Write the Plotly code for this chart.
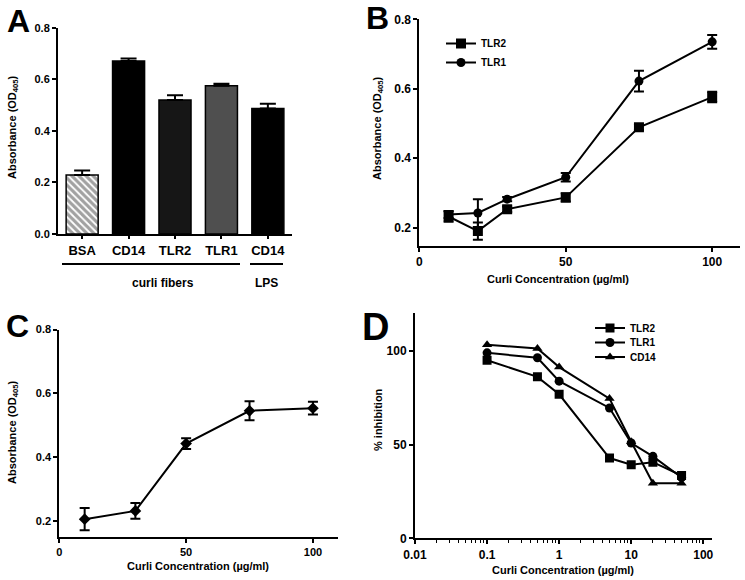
import plotly.graph_objects as go

# ---------------- data ----------------
# Panel A
a_labels = ["BSA", "CD14", "TLR2", "TLR1", "CD14"]
a_values = [0.229, 0.671, 0.520, 0.575, 0.487]
a_errors = [0.017, 0.010, 0.018, 0.008, 0.018]
a_colors = ["white", "#000000", "#161616", "#4f4f4f", "#000000"]
a_groups = ["curli fibers", "LPS"]

# Panel B
b_conc = [10, 20, 30, 50, 75, 100]
b_tlr2 = [0.232, 0.190, 0.253, 0.287, 0.489, 0.576]
b_tlr2_err = [0.015, 0.025, 0.008, 0.012, 0.008, 0.015]
b_tlr1 = [0.238, 0.242, 0.282, 0.345, 0.622, 0.735]
b_tlr1_err = [0.010, 0.040, 0.006, 0.012, 0.030, 0.020]

# Panel C
c_conc = [10, 30, 50, 75, 100]
c_vals = [0.205, 0.231, 0.442, 0.545, 0.553]
c_err = [0.035, 0.025, 0.017, 0.030, 0.020]

# Panel D
d_conc = [0.1, 0.5, 1, 5, 10, 20, 50]
d_tlr2 = [95.0, 86.1, 76.8, 42.8, 39.2, 40.6, 33.5]
d_tlr1 = [98.9, 96.3, 83.8, 69.5, 50.8, 43.7, 32.4]
d_cd14 = [103.2, 101.2, 91.3, 74.5, 51.5, 29.4, 29.4]
d_ticks = [0.01, 0.1, 1, 10, 100]
d_ticktext = ["0.01", "0.1", "1", "10", "100"]

# ---------------- layout helpers ----------------
W, H = 745, 580
FONT = "Liberation Sans, Arial, sans-serif"


def px(x):
    return x / W


def py(y):
    return 1 - y / H


fig = go.Figure()

# ---- Panel A: bars ----
fig.add_trace(go.Bar(
    x=list(range(len(a_labels))), y=a_values,
    marker=dict(color=a_colors, line=dict(color="black", width=1.5),
                pattern=dict(shape=["\\", "", "", "", ""], fgcolor="black",
                             fillmode="overlay", size=5, solidity=0.65)),
    error_y=dict(type="data", array=a_errors, arrayminus=[0] * len(a_errors),
                 symmetric=False, color="black", thickness=2, width=8),
    width=0.69, xaxis="x", yaxis="y", showlegend=False))

# ---- Panel B ----
fig.add_trace(go.Scatter(
    x=b_conc, y=b_tlr2, name="TLR2", mode="lines+markers",
    line=dict(color="black", width=2),
    marker=dict(symbol="square", size=10, color="black"),
    error_y=dict(type="data", array=b_tlr2_err, color="black", thickness=2, width=5),
    xaxis="x2", yaxis="y2", legend="legend"))
fig.add_trace(go.Scatter(
    x=b_conc, y=b_tlr1, name="TLR1", mode="lines+markers",
    line=dict(color="black", width=2),
    marker=dict(symbol="circle", size=9, color="black"),
    error_y=dict(type="data", array=b_tlr1_err, color="black", thickness=2, width=5),
    xaxis="x2", yaxis="y2", legend="legend"))

# ---- Panel C ----
fig.add_trace(go.Scatter(
    x=c_conc, y=c_vals, mode="lines+markers",
    line=dict(color="black", width=2),
    marker=dict(symbol="diamond", size=9, color="black"),
    error_y=dict(type="data", array=c_err, color="black", thickness=2, width=5),
    xaxis="x3", yaxis="y3", showlegend=False))

# ---- Panel D ----
for name, vals, sym, lg in [("TLR2", d_tlr2, "square", "legend2"),
                            ("TLR1", d_tlr1, "circle", "legend3"),
                            ("CD14", d_cd14, "triangle-up", "legend4")]:
    fig.add_trace(go.Scatter(
        x=d_conc, y=vals, name=name, mode="lines+markers",
        line=dict(color="black", width=2),
        marker=dict(symbol=sym, size=9, color="black"),
        xaxis="x4", yaxis="y4", legend=lg))

axis_common = dict(showline=True, linecolor="black", linewidth=2, ticks="outside",
                   ticklen=4, tickwidth=2, tickcolor="black", showgrid=False,
                   zeroline=False, mirror=False, automargin=False,
                   tickfont=dict(family=FONT, size=11, color="black", weight="bold"))

minor_vals = []
for dec in [0.01, 0.1, 1, 10]:
    for k in range(2, 10):
        minor_vals.append(dec * k)

legend_font = dict(family=FONT, size=10, color="black", weight="bold")


def d_legend(ycenter):
    return dict(x=px(590), y=py(ycenter), xanchor="left", yanchor="middle",
                bgcolor="rgba(0,0,0,0)", borderwidth=0, itemwidth=30,
                font=legend_font, tracegroupgap=0)


fig.update_layout(
    template="none",
    width=W, height=H, autosize=False,
    margin=dict(l=0, r=0, t=0, b=0, pad=0),
    paper_bgcolor="white", plot_bgcolor="white",
    font=dict(family=FONT, size=11, color="black", weight="bold"),
    # A
    xaxis=dict(axis_common, domain=[px(58), px(292)], range=[-0.52, 4.52],
               tickvals=list(range(len(a_labels))), ticktext=a_labels,
               ticklen=3, tickfont=dict(family=FONT, size=13, color="black", weight="bold"),
               anchor="y"),
    yaxis=dict(axis_common, domain=[py(234), py(27.7)], range=[0, 0.8],
               tickvals=[0, 0.2, 0.4, 0.6, 0.8], tickformat=".1f", anchor="x"),
    # B
    xaxis2=dict(axis_common, domain=[px(419.3), px(740)], range=[0, 109.5],
                tickvals=[0, 50, 100], anchor="y2",
                tickfont=dict(family=FONT, size=12, color="black", weight="bold")),
    yaxis2=dict(axis_common, domain=[py(246), py(19.3)], range=[0.147, 0.8],
                tickvals=[0.2, 0.4, 0.6, 0.8], tickformat=".1f", anchor="x2",
                tickfont=dict(family=FONT, size=12, color="black", weight="bold")),
    # C
    xaxis3=dict(axis_common, domain=[px(59.3), px(338.3)], range=[0, 110],
                tickvals=[0, 50, 100], anchor="y3"),
    yaxis3=dict(axis_common, domain=[py(536.7), py(329.5)], range=[0.15, 0.8],
                tickvals=[0.2, 0.4, 0.6, 0.8], tickformat=".1f", anchor="x3"),
    # D
    xaxis4=dict(axis_common, type="log", domain=[px(415), px(711.7)], range=[-2, 2.117],
                tickvals=d_ticks, ticktext=d_ticktext, anchor="y4",
                tickfont=dict(family=FONT, size=12, color="black", weight="bold"),
                minor=dict(tickvals=minor_vals, ticks="outside", ticklen=3,
                           tickwidth=1, tickcolor="black", showgrid=False)),
    yaxis4=dict(axis_common, domain=[py(538.3), py(313.3)], range=[0, 120],
                tickvals=[0, 50, 100], anchor="x4",
                tickfont=dict(family=FONT, size=12, color="black", weight="bold")),
    legend=dict(x=px(441), y=py(29), xanchor="left", yanchor="top",
                bgcolor="rgba(0,0,0,0)", borderwidth=0, itemwidth=30,
                font=legend_font, tracegroupgap=0),
    legend2=d_legend(328),
    legend3=d_legend(342.5),
    legend4=d_legend(357),
)

annots = []


def ann(text, x, y, size, angle=0, xanchor="center", yanchor="middle"):
    annots.append(dict(text=text, x=px(x), y=py(y), xref="paper", yref="paper",
                       showarrow=False, textangle=angle, xanchor=xanchor, yanchor=yanchor,
                       font=dict(family=FONT, size=size, color="black", weight="bold")))


# panel letters
ann("A", 18, 21, 32)
ann("B", 377, 18, 32)
ann("C", 17, 326, 32)
ann("D", 375, 327, 38)

# axis titles
ann("Absorbance (OD<sub>405</sub>)", 13, 127, 11, angle=-90)
ann("Absorbance (OD<sub>405</sub>)", 378, 128, 11, angle=-90)
ann("Absorbance (OD<sub>405</sub>)", 13, 432, 11, angle=-90)
ann("% inhibition", 378, 420, 11, angle=-90)
ann("Curli Concentration (µg/ml)", 558, 279, 11)
ann("Curli Concentration (µg/ml)", 198, 566, 11)
ann("Curli Concentration (µg/ml)", 563, 570, 11)

# group labels for A
ann(a_groups[0], 163, 283, 12)
ann(a_groups[1], 266, 283, 12)

shapes = [
    dict(type="line", xref="paper", yref="paper", x0=px(62), x1=px(240), y0=py(264), y1=py(264),
         line=dict(color="black", width=2)),
    dict(type="line", xref="paper", yref="paper", x0=px(250), x1=px(283), y0=py(264), y1=py(264),
         line=dict(color="black", width=2)),
]

fig.update_layout(annotations=annots, shapes=shapes)

fig.write_html("out.html",
               config={"displayModeBar": False, "staticPlot": True},
               post_script="document.body.style.margin='0';document.body.style.overflow='hidden';")
